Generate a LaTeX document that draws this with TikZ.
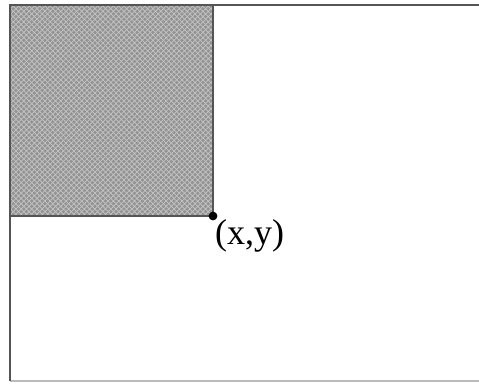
\documentclass[tikz,border=0pt]{standalone}
\usepackage{fontspec}
\setmainfont{Liberation Serif}
\usetikzlibrary{positioning,patterns}
\definecolor{frame}{HTML}{555555}
\definecolor{framelt}{HTML}{BBBBBB}
\definecolor{shade}{HTML}{939393}
\definecolor{hatch}{HTML}{C4C4C4}
\tikzset{
  region/.style={draw=frame, fill=shade, thick},
  hatched/.style={pattern=crosshatch, pattern color=hatch},
  pt/.style={circle, fill=black, inner sep=0pt, minimum size=5pt},
  lbl/.style={font=\fontsize{20.5}{22}\selectfont, inner sep=1pt}
}
\begin{document}
\begin{tikzpicture}[x=0.02cm,y=-0.02cm]
  \useasboundingbox (0,0) rectangle (479,383);
  % outer frame
  \draw[framelt, thick] (10,381) -- (479,381);
  \draw[frame, thick] (479,5) -- (10,5) -- (10,381);
  % shaded corner
  \path[region] (10,5) rectangle (213,216);
  \path[hatched] (10,5) rectangle (213,216);
  \draw[frame, thick] (10,5) rectangle (213,216);
  \node[pt] (p) at (213,216) {};
  \node[lbl, anchor=north west] (plbl) at ([xshift=0pt,yshift=2pt]p.south) {(x,y)};
\end{tikzpicture}
\end{document}
